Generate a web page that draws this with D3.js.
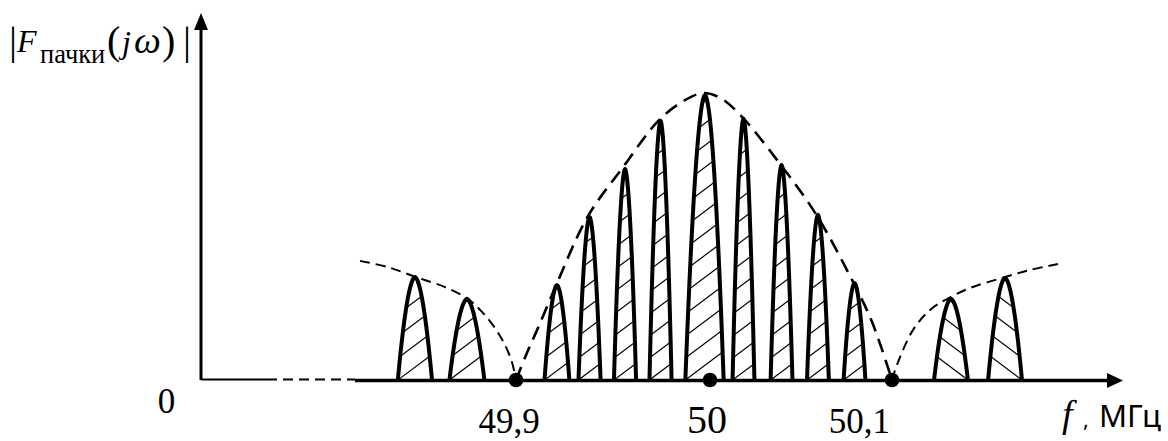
<!DOCTYPE html>
<html><head><meta charset="utf-8">
<script src="https://cdn.jsdelivr.net/npm/d3@7"></script>
<style>html,body{margin:0;padding:0;background:#fff;} svg{display:block;}</style>
</head><body>
<svg id="chart" width="1168" height="441"></svg>
<script>
// ---------- data ----------
const tickFreqs = [49.9, 50, 50.1];
const tickLabels = ["49,9", "50", "50,1"];
const originLabel = "0";
const xUnitLabel = "МГц";
const ySubLabel = "пачки";

// spectral lobes (centre frequency, MHz; relative amplitude; half bandwidth, MHz)
const lobeFreqs = [49.8479, 49.8747, 49.9211, 49.9379, 49.9562, 49.9745, 49.9974, 50.0184, 50.0393, 50.0593, 50.0794, 50.1324, 50.1621];
const lobeAmps  = [0.361, 0.284, 0.333, 0.572, 0.740, 0.909, 1.000, 0.916, 0.754, 0.579, 0.340, 0.284, 0.358];
const lobeHalfWidths = [0.0088, 0.0090, 0.0064, 0.0057, 0.0057, 0.0057, 0.0101, 0.0060, 0.0060, 0.0060, 0.0060, 0.0093, 0.0093];

// envelope (dashed)
const mainEnvFreqs = [49.9000, 49.9052, 49.9113, 49.9201, 49.9371, 49.9552, 49.9737, 49.9871, 49.9969, 50.0066, 50.0176, 50.0385, 50.0582, 50.0786, 50.0890, 50.1000];
const mainEnvAmps  = [0.000, 0.088, 0.182, 0.323, 0.575, 0.747, 0.912, 0.982, 1.007, 0.986, 0.923, 0.758, 0.582, 0.344, 0.204, 0.000];
const leftEnvFreqs = [49.8196, 49.8340, 49.8485, 49.8634, 49.8753, 49.8825, 49.8892, 49.8943, 49.8979, 49.9000];
const leftEnvAmps  = [0.418, 0.396, 0.361, 0.326, 0.284, 0.239, 0.182, 0.123, 0.063, 0.000];
const rightEnvFreqs = [50.1000, 50.1027, 50.1115, 50.1209, 50.1302, 50.1429, 50.1604, 50.1758, 50.1912];
const rightEnvAmps  = [0.000, 0.053, 0.175, 0.246, 0.284, 0.323, 0.358, 0.386, 0.407];

// ---------- layout ----------
const svg = d3.select("#chart");
const x = d3.scaleLinear().domain(tickFreqs).range([516, 710, 892]);
const y = d3.scaleLinear().domain([0, 1]).range([380, 95]);
const y0 = y(0);
const axisX = 201;
const yTop = 13;
const xEnd = 1123;
const serif = "'Liberation Serif', 'Times New Roman', serif";
const sans = "'Noto Sans', 'Open Sans', sans-serif";

// envelopes
const env = d3.line().x(d => x(d[0])).y(d => y(d[1])).curve(d3.curveCatmullRom.alpha(0.5));
svg.append("path").attr("d", env(d3.zip(mainEnvFreqs, mainEnvAmps)))
  .attr("fill", "none").attr("stroke", "#000").attr("stroke-width", 2.6).attr("stroke-dasharray", "14,8");
svg.append("path").attr("d", env(d3.zip(leftEnvFreqs, leftEnvAmps)))
  .attr("fill", "none").attr("stroke", "#000").attr("stroke-width", 2).attr("stroke-dasharray", "10,6");
svg.append("path").attr("d", env(d3.zip(rightEnvFreqs, rightEnvAmps)))
  .attr("fill", "none").attr("stroke", "#000").attr("stroke-width", 2).attr("stroke-dasharray", "10,6");

// lobes
const lobes = lobeFreqs.map((f, i) => ({f, a: lobeAmps[i], hw: lobeHalfWidths[i], i}));
const us = d3.range(0, 41).map(k => -1 + k / 20);
const lobeLine = d => d3.line()(us.map(u => [x(d.f + u * d.hw), y(d.a * (1 - Math.pow(Math.abs(u), 1.8)))]));
const defs = svg.append("defs");
lobes.forEach(d => {
  defs.append("clipPath").attr("id", "lc" + d.i).append("path").attr("d", lobeLine(d) + "Z");
});
const slope = 0.75, sp = 22;
lobes.forEach(d => {
  const xl = x(d.f - d.hw), xr = x(d.f + d.hw), top = y(d.a);
  const back = d.f > tickFreqs[2];
  const g = svg.append("g").attr("clip-path", `url(#lc${d.i})`);
  for (let k = 0; y0 - k * sp > top; k++) {
    const yb = y0 - k * sp;
    const w = xr - xl + 4;
    if (!back) g.append("line").attr("x1", xl - 2).attr("y1", yb + 2 * slope).attr("x2", xl - 2 + w + 4).attr("y2", yb - (w + 2) * slope);
    else g.append("line").attr("x1", xr + 2).attr("y1", yb + 2 * slope).attr("x2", xr + 2 - w - 4).attr("y2", yb - (w + 2) * slope);
  }
  g.selectAll("line").attr("stroke", "#000").attr("stroke-width", 1.2);
});
svg.selectAll("path.lobe").data(lobes).join("path").attr("class", "lobe")
  .attr("d", lobeLine).attr("fill", "none").attr("stroke", "#000")
  .attr("stroke-width", 4).attr("stroke-linejoin", "round");

// axes
svg.append("line").attr("x1", axisX).attr("y1", y0 - 0.5).attr("x2", 267).attr("y2", y0 - 0.5)
  .attr("stroke", "#000").attr("stroke-width", 2);
svg.append("line").attr("x1", 267).attr("y1", y0 - 0.5).attr("x2", 355).attr("y2", y0 - 0.5)
  .attr("stroke", "#000").attr("stroke-width", 2).attr("stroke-dasharray", "10,6");
svg.append("line").attr("x1", 355).attr("y1", y0 + 0.5).attr("x2", xEnd - 14).attr("y2", y0 + 0.5)
  .attr("stroke", "#000").attr("stroke-width", 3.4);
svg.append("path").attr("d", `M${xEnd},${y0 + 0.5} L${xEnd - 16},${y0 - 7} L${xEnd - 16},${y0 + 8} Z`).attr("fill", "#000");
svg.append("line").attr("x1", axisX).attr("y1", y0).attr("x2", axisX).attr("y2", yTop + 12)
  .attr("stroke", "#000").attr("stroke-width", 3);
svg.append("path").attr("d", `M${axisX},${yTop} L${axisX - 7},${yTop + 17} L${axisX + 7},${yTop + 17} Z`).attr("fill", "#000");

// points on the axis
svg.selectAll("circle.pt").data(tickFreqs).join("circle").attr("class", "pt")
  .attr("cx", d => x(d)).attr("cy", y0).attr("r", 7.3).attr("fill", "#000");

// tick labels
const tickStyle = [{dx: -7, dy: 53, size: 35, anchor: "middle"}, {dx: -3, dy: 53, size: 40, anchor: "middle"}, {dx: -2, dy: 53, size: 35, anchor: "end"}];
svg.selectAll("text.tick").data(tickFreqs).join("text").attr("class", "tick")
  .attr("x", (d, i) => x(d) + tickStyle[i].dx).attr("y", (d, i) => y0 + tickStyle[i].dy)
  .attr("text-anchor", (d, i) => tickStyle[i].anchor)
  .attr("font-family", serif).attr("font-size", (d, i) => tickStyle[i].size)
  .text((d, i) => tickLabels[i]);
svg.append("text").attr("x", 166.5).attr("y", 413).attr("text-anchor", "middle")
  .attr("font-family", serif).attr("font-size", 35).text(originLabel);

// x-axis unit label
const xl = svg.append("text").attr("y", 427);
xl.append("tspan").attr("x", 1062).attr("font-family", serif).attr("font-style", "italic").attr("font-size", 38).text("f");
xl.append("tspan").attr("x", 1083).attr("font-family", sans).attr("font-size", 22).text(",");
xl.append("tspan").attr("x", 1099).attr("font-family", sans).attr("font-size", 31).text(xUnitLabel);

// y-axis label |F_пачки(jω)|
const yl = svg.append("text").attr("font-family", serif);
yl.append("tspan").attr("x", 9).attr("y", 54).attr("font-size", 40).text("|");
yl.append("tspan").attr("x", 17).attr("y", 52).attr("font-size", 32).attr("font-style", "italic").text("F");
yl.append("tspan").attr("x", 40).attr("y", 63).attr("font-size", 26.5).text(ySubLabel);
yl.append("tspan").attr("x", 107).attr("y", 54).attr("font-size", 40).text("(");
yl.append("tspan").attr("x", 122).attr("y", 53).attr("font-size", 32).attr("font-style", "italic").text("j");
yl.append("tspan").attr("x", 134).attr("y", 53).attr("font-size", 38).attr("font-style", "italic").text("ω");
yl.append("tspan").attr("x", 162).attr("y", 54).attr("font-size", 40).text(")");
yl.append("tspan").attr("x", 183).attr("y", 54).attr("font-size", 40).text("|");
</script>
</body></html>
